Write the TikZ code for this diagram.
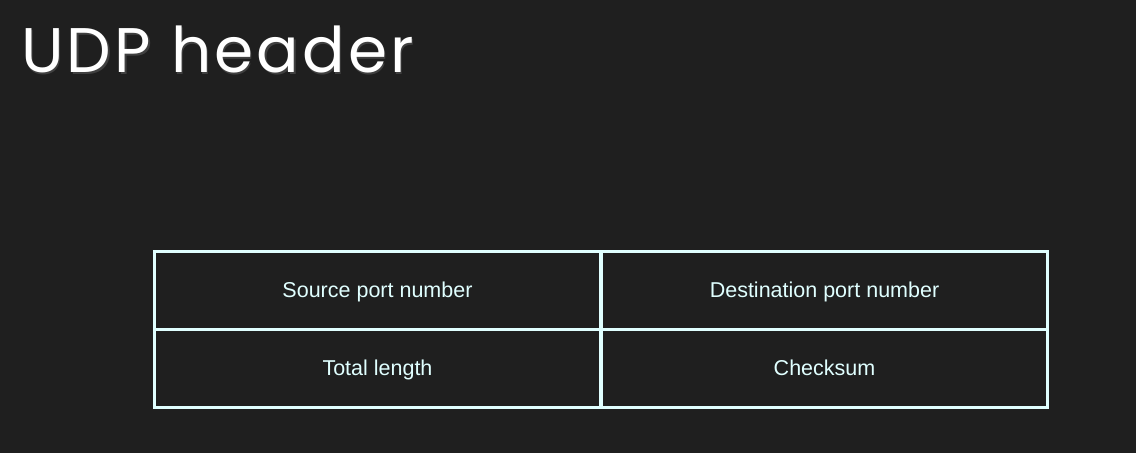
\documentclass[tikz,border=0pt]{standalone}
\usepackage{fontspec}
\setmainfont{Liberation Sans}
\newfontfamily\titlefont[LetterSpace=5]{Poppins}
\definecolor{bg}{HTML}{1F1F1F}
\definecolor{cyanline}{HTML}{E0FFFF}
\begin{document}
\begin{tikzpicture}[x=1pt,y=-1pt,
  cell/.style={draw=cyanline,line width=3pt,minimum width=446pt,minimum height=78pt,inner sep=0pt,
    text=cyanline,font=\fontsize{21.5}{24}\selectfont,text height=15.4pt,text depth=0pt},
  ttl/.style={text=white,inner sep=0pt,anchor=base west,font=\titlefont\fontsize{63}{68}\selectfont}]
\fill[bg] (0,0) rectangle (1136,453);
\useasboundingbox (0,0) rectangle (1136,453);
\node[ttl] (shadow) at (22.5,74) {\textcolor{black!75}{UDP header}};
\node[ttl] (title) at (21,72) {UDP header};
\node[cell] (src) at (377.5,290) {Source port number};
\node[cell] (dst) at (824.5,290) {Destination port number};
\node[cell] (len) at (377.5,368) {Total length};
\node[cell] (chk) at (824.5,368) {Checksum};
\end{tikzpicture}
\end{document}
